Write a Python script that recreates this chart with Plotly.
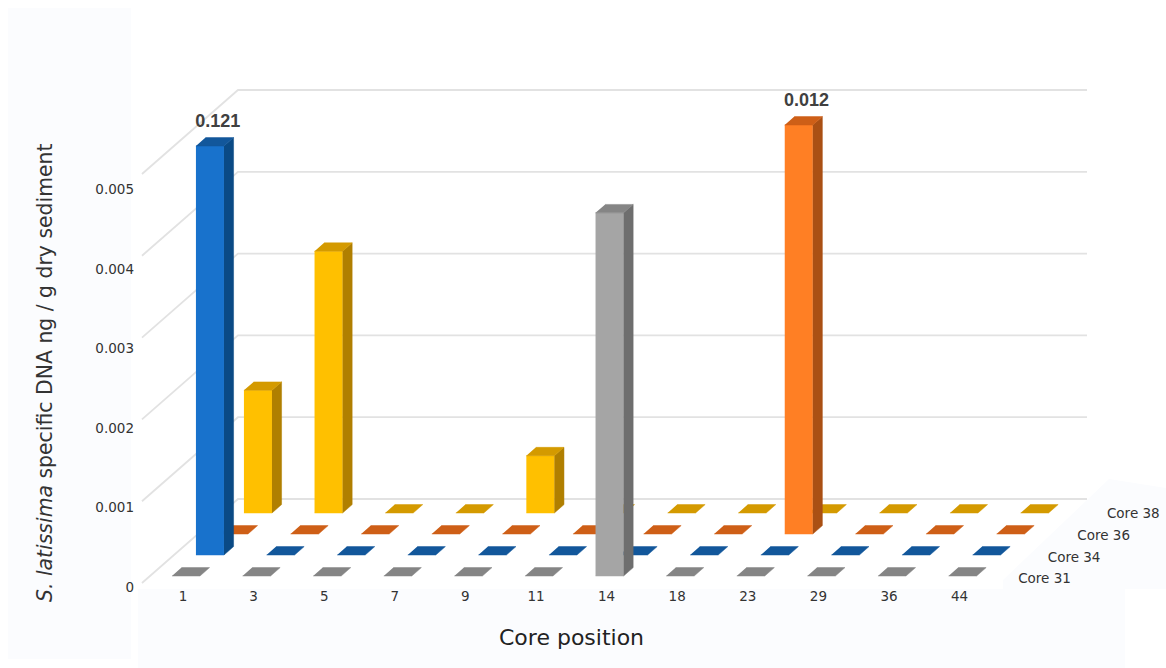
import plotly.graph_objects as go

# Core positions along the horizontal axis
positions = ["1", "3", "5", "7", "9", "11", "14", "18", "23", "29", "36", "44"]
core_names = ["Core 31", "Core 34", "Core 36", "Core 38"]

# DNA concentration per core position, ng / g dry sediment
core_31 = [0, 0, 0, 0, 0, 0, 0.00444, 0, 0, 0, 0, 0]
core_34 = [0.121, 0, 0, 0, 0, 0, 0, 0, 0, 0, 0, 0]
core_36 = [0, 0, 0, 0, 0, 0, 0, 0, 0.012, 0, 0, 0]
core_38 = [0.0015, 0.0032, 0, 0, 0.0007, 0, 0, 0, 0, 0, 0, 0]

value_ticks = [0, 0.001, 0.002, 0.003, 0.004, 0.005]
value_tick_text = ["0", "0.001", "0.002", "0.003", "0.004", "0.005"]
VALUE_MAX = 0.005

W, H = 1166, 668
FONT = "DejaVu Sans"

# Axis scales
PX_PER_POS = 70.6
POS_ORIGIN = 183
PX_PER_VALUE = 81800
FLOOR_PX = 583
TICK_PX_PER_VALUE = 79500
TICK_ZERO_PX = 587

# Oblique projection: one depth unit is one row of bars
DX = 24 / PX_PER_POS
DY = 21 / PX_PER_VALUE
BAR_W = 0.397
BAR_D = 0.4
ROW_OFFSET = 1 / 3
BAR_INSET = 0.27
WALL_LEFT = -0.581
WALL_RIGHT = 11.445
DEPTH_ROWS = 4


def project(pos, depth, value):
    return pos + depth * DX, value + depth * DY


def polygons(faces):
    xs, ys = [], []
    for face in faces:
        for corner in face:
            x, y = project(*corner)
            xs.append(x)
            ys.append(y)
        xs.append(None)
        ys.append(None)
    return xs, ys


palette = [
    ("#A5A5A5", "#6E6E6E", "#858585"),
    ("#1872CC", "#0A4A85", "#12579B"),
    ("#FF7F24", "#AA5014", "#CE5F17"),
    ("#FFC000", "#B07F00", "#D49A00"),
]

fig = go.Figure()

# Carries the value axis so its tick labels are drawn
fig.add_trace(go.Scatter(x=[0] * len(value_ticks), y=value_ticks, mode="markers",
                         marker=dict(opacity=0), hoverinfo="skip", showlegend=False))

# Back wall and side wall gridlines
grid_x, grid_y = [], []
for v in value_ticks:
    for pos, depth in [(WALL_LEFT, 0), (WALL_LEFT, DEPTH_ROWS), (WALL_RIGHT, DEPTH_ROWS)]:
        x, y = project(pos, depth, v)
        grid_x.append(x)
        grid_y.append(y)
    grid_x.append(None)
    grid_y.append(None)
fig.add_trace(go.Scatter(x=grid_x, y=grid_y, yaxis="y2", mode="lines",
                         line=dict(color="#E2E2E2", width=1.8),
                         hoverinfo="skip", showlegend=False))

# Rows are drawn back to front so nearer bars cover farther ones
rows = [core_31, core_34, core_36, core_38]
LABEL_GAP = 6.5 / PX_PER_VALUE
label_x, label_y, label_text = [], [], []
for r in reversed(range(len(rows))):
    front_c, side_c, top_c = palette[r]
    d0 = r + ROW_OFFSET
    d1 = d0 + BAR_D
    front, side, top = [], [], []
    for i, raw in enumerate(rows[r]):
        v = min(raw, VALUE_MAX)
        x0 = i - BAR_INSET
        x1 = x0 + BAR_W
        if v > 0:
            front.append([(x0, d0, 0), (x1, d0, 0), (x1, d0, v), (x0, d0, v)])
            side.append([(x1, d0, 0), (x1, d1, 0), (x1, d1, v), (x1, d0, v)])
        top.append([(x0, d0, v), (x1, d0, v), (x1, d1, v), (x0, d1, v)])
        if raw > VALUE_MAX:
            lx, ly = project(x0 + BAR_W / 2 - 0.025, d1, v)
            label_x.append(lx)
            label_y.append(ly + LABEL_GAP)
            label_text.append(f"{raw:.3f}")
    for faces, color in [(front, front_c), (side, side_c), (top, top_c)]:
        if not faces:
            continue
        xs, ys = polygons(faces)
        fig.add_trace(go.Scatter(x=xs, y=ys, yaxis="y2", mode="lines", fill="toself",
                                 fillcolor=color, line=dict(color=color, width=0.5),
                                 name=core_names[r], hoverinfo="skip", showlegend=False))

# Values printed above bars that run past the top of the scale
fig.add_trace(go.Scatter(x=label_x, y=label_y, yaxis="y2", mode="text", text=label_text,
                         textposition="top center",
                         textfont=dict(family="Liberation Sans", size=18, color="#404040", weight="bold"),
                         hoverinfo="skip", showlegend=False))

# Depth axis labels for each core
SERIES_LABEL_START = (1044.5 - POS_ORIGIN) / PX_PER_POS
SERIES_LABEL_STEP = 29.6 / PX_PER_POS
fig.add_trace(go.Scatter(
    x=[SERIES_LABEL_START + SERIES_LABEL_STEP * r for r in range(4)],
    y=[(FLOOR_PX - 580 + 21.7 * r) / PX_PER_VALUE for r in range(4)],
    yaxis="y2", mode="text", text=core_names, textposition="middle center",
    textfont=dict(family=FONT, size=13.5, color="#333333"),
    hoverinfo="skip", showlegend=False))


def px_x(v):
    return v / W


def px_y(v):
    return 1 - v / H


# Pale panels behind the axis areas
panel = "#FBFCFE"
shapes = [
    dict(type="rect", x0=px_x(8), x1=px_x(131), y0=px_y(659), y1=px_y(8)),
    dict(type="rect", x0=px_x(138), x1=px_x(1125), y0=px_y(668), y1=px_y(589)),
    dict(type="path", path=f"M {px_x(1003)} {px_y(589)} L {px_x(1003)} {px_y(580)} L {px_x(1109)} {px_y(479)} "
                           f"L {px_x(1166)} {px_y(488)} L {px_x(1166)} {px_y(589)} Z"),
]
for s in shapes:
    s.update(xref="paper", yref="paper", fillcolor=panel, line=dict(width=0), layer="below")

fig.update_layout(
    width=W, height=H, margin=dict(l=0, r=0, t=0, b=0),
    paper_bgcolor="white", plot_bgcolor="rgba(0,0,0,0)",
    showlegend=False, shapes=shapes,
    xaxis=dict(range=[-POS_ORIGIN / PX_PER_POS, (W - POS_ORIGIN) / PX_PER_POS],
               tickmode="array", tickvals=list(range(len(positions))), ticktext=positions,
               anchor="free", position=px_y(586), showgrid=False, zeroline=False, showline=False,
               ticks="", tickfont=dict(family=FONT, size=13.5, color="#333333")),
    yaxis=dict(range=[(TICK_ZERO_PX - H) / TICK_PX_PER_VALUE, TICK_ZERO_PX / TICK_PX_PER_VALUE],
               tickmode="array", tickvals=value_ticks, ticktext=value_tick_text,
               anchor="free", position=px_x(134), showgrid=False, zeroline=False, showline=False,
               ticks="", tickfont=dict(family=FONT, size=13.5, color="#333333")),
    yaxis2=dict(range=[(FLOOR_PX - H) / PX_PER_VALUE, FLOOR_PX / PX_PER_VALUE],
                overlaying="y", visible=False),
    annotations=[
        dict(text="<i>S. latissima</i> specific DNA ng / g dry sediment", textangle=-90,
             x=px_x(45), y=px_y(373), xref="paper", yref="paper", showarrow=False,
             xanchor="center", yanchor="middle",
             font=dict(family=FONT, size=20.4, color="#333333")),
        dict(text="Core position", x=px_x(571), y=px_y(637), xref="paper", yref="paper",
             showarrow=False, xanchor="center", yanchor="middle",
             font=dict(family=FONT, size=22, color="#222222")),
    ],
)

fig.write_html("out.html")
